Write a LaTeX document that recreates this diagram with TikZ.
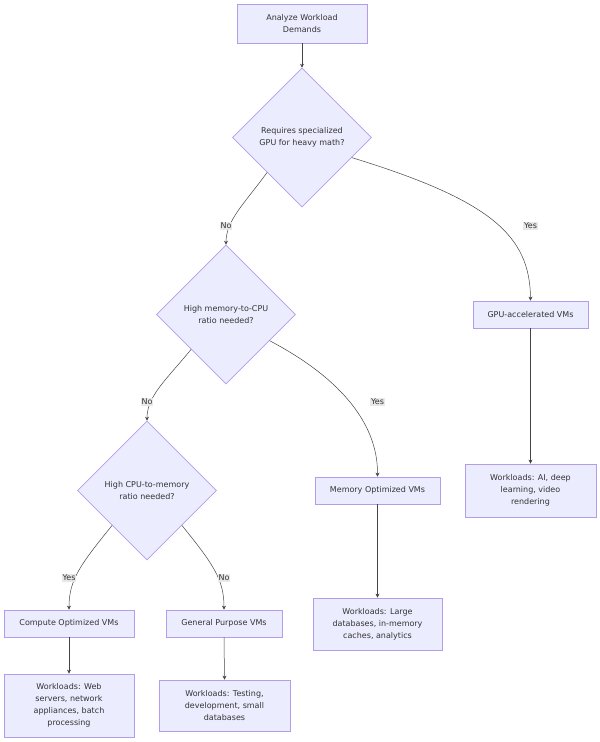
\documentclass[tikz,border=0pt]{standalone}
\usepackage{fontspec}
\setmainfont{DejaVu Sans}
\usetikzlibrary{shapes.geometric,arrows.meta}
\definecolor{nodefill}{HTML}{ECECFF}
\definecolor{nodeline}{HTML}{B39DEA}
\definecolor{edgeline}{HTML}{444444}
\definecolor{labelbg}{HTML}{E8E8E8}
\definecolor{txt}{HTML}{333333}
\tikzset{
  box/.style={draw=nodeline, fill=nodefill, line width=0.8pt, rectangle, align=center,
    inner sep=0pt, text=txt, font=\fontsize{8}{12}\selectfont},
  decision/.style={draw=nodeline, fill=nodefill, line width=0.6pt, diamond, aspect=1,
    minimum width=139pt, minimum height=139pt, inner sep=0pt, align=center, text=txt,
    font=\fontsize{8}{12}\selectfont},
  conn/.style={draw=edgeline, line width=0.5pt, -{Stealth[length=4pt,width=4pt]}},
  lbl/.style={fill=labelbg, inner sep=1pt, text=txt, font=\fontsize{8}{10}\selectfont}
}
\begin{document}
\begin{tikzpicture}[x=1pt,y=-1pt]
\useasboundingbox (0,0) rectangle (600,742);
\node[box, minimum width=130pt, minimum height=39pt] (start) at (302,23.5) {Analyze Workload\\Demands};
\node[decision] (d1) at (302,137.5) {Requires specialized\\GPU for heavy math?};
\node[decision] (d2) at (226,314.5) {High memory-to-CPU\\ratio needed?};
\node[decision] (d3) at (147,490.5) {High CPU-to-memory\\ratio needed?};
\node[box, minimum width=115pt, minimum height=27pt] (gpu) at (530.5,314.5) {GPU-accelerated VMs};
\node[box, minimum width=131pt, minimum height=53pt] (gpuw) at (530.5,490.5) {Workloads: AI, deep\\learning, video\\rendering};
\node[box, minimum width=125pt, minimum height=27pt] (mem) at (377.5,490.5) {Memory Optimized VMs};
\node[box, minimum width=129pt, minimum height=52pt] (memw) at (377.5,624) {Workloads: Large\\databases, in-memory\\caches, analytics};
\node[box, minimum width=130pt, minimum height=27pt] (comp) at (69,623.5) {Compute Optimized VMs};
\node[box, minimum width=116pt, minimum height=27pt] (gen) at (224,623.5) {General Purpose VMs};
\node[box, minimum width=130pt, minimum height=63pt] (compw) at (69,705.5) {Workloads: Web\\servers, network\\appliances, batch\\processing};
\node[box, minimum width=131pt, minimum height=51pt] (genw) at (224.5,705.5) {Workloads: Testing,\\development, small\\databases};

\draw[conn] (start.south) -- (d1.north);
\draw[conn] (d1.south west) .. controls (245,203) and (226,220) .. (d2.north);
\draw[conn] (d1.-22) .. controls (490,200) and (530,235) .. (gpu.north);
\draw[conn] (d2.south west) .. controls (166,380) and (147,396) .. (d3.north);
\draw[conn] (d2.-31) .. controls (335,375) and (378,420) .. (mem.north);
\draw[conn] (d3.south west) .. controls (80,565) and (69,580) .. (comp.north);
\draw[conn] (d3.south east) .. controls (214,565) and (224,580) .. (gen.north);
\draw[conn] (gpu.south) -- (gpuw.north);
\draw[conn] (mem.south) -- (memw.north);
\draw[conn] (comp.south) -- (compw.north);
\draw[conn] (gen.south) -- (genw.north);

\node[lbl] (l1) at (226,226) {No};
\node[lbl] (l2) at (530.5,226) {Yes};
\node[lbl] (l3) at (147,402) {No};
\node[lbl] (l4) at (377.5,402) {Yes};
\node[lbl] (l5) at (69,578) {Yes};
\node[lbl] (l6) at (224,578) {No};
\end{tikzpicture}
\end{document}
